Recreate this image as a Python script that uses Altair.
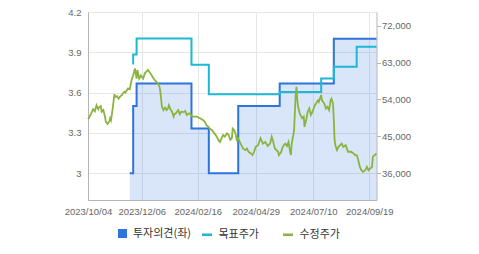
import altair as alt
import pandas as pd

# ---- data ----
price_dates = [
    "2023-10-04", "2023-10-05", "2023-10-08", "2023-10-10", "2023-10-12", "2023-10-14", "2023-10-16", "2023-10-17",
    "2023-10-19", "2023-10-20", "2023-10-22", "2023-10-24", "2023-10-25", "2023-10-27", "2023-10-29", "2023-10-30",
    "2023-10-31", "2023-11-02", "2023-11-04", "2023-11-05", "2023-11-07", "2023-11-09", "2023-11-11", "2023-11-13",
    "2023-11-14", "2023-11-16", "2023-11-17", "2023-11-18", "2023-11-20", "2023-11-22", "2023-11-24", "2023-11-26",
    "2023-11-27", "2023-11-28", "2023-11-30", "2023-12-01", "2023-12-03", "2023-12-05", "2023-12-06", "2023-12-08",
    "2023-12-10", "2023-12-12", "2023-12-14", "2023-12-17", "2023-12-19", "2023-12-20", "2023-12-23", "2023-12-25",
    "2023-12-27", "2023-12-29", "2023-12-30", "2024-01-01", "2024-01-03", "2024-01-05", "2024-01-07", "2024-01-09",
    "2024-01-10", "2024-01-12", "2024-01-14", "2024-01-16", "2024-01-17", "2024-01-19", "2024-01-22", "2024-01-24",
    "2024-01-26", "2024-01-29", "2024-01-31", "2024-02-02", "2024-02-04", "2024-02-06", "2024-02-08", "2024-02-10",
    "2024-02-15", "2024-02-19", "2024-02-23", "2024-02-25", "2024-02-27", "2024-02-29", "2024-03-02", "2024-03-05",
    "2024-03-08", "2024-03-11", "2024-03-13", "2024-03-15", "2024-03-17", "2024-03-19", "2024-03-21", "2024-03-24",
    "2024-03-26", "2024-03-28", "2024-03-30", "2024-03-31", "2024-04-02", "2024-04-04", "2024-04-05", "2024-04-07",
    "2024-04-10", "2024-04-13", "2024-04-16", "2024-04-18", "2024-04-20", "2024-04-23", "2024-04-25", "2024-04-27",
    "2024-04-29", "2024-05-02", "2024-05-05", "2024-05-08", "2024-05-11", "2024-05-14", "2024-05-17", "2024-05-19",
    "2024-05-21", "2024-05-23", "2024-05-27", "2024-05-28", "2024-05-31", "2024-06-01", "2024-06-03", "2024-06-05",
    "2024-06-07", "2024-06-09", "2024-06-11", "2024-06-12", "2024-06-13", "2024-06-15", "2024-06-16", "2024-06-18",
    "2024-06-19", "2024-06-20", "2024-06-21", "2024-06-23", "2024-06-26", "2024-06-28", "2024-06-29", "2024-07-01",
    "2024-07-03", "2024-07-05", "2024-07-07", "2024-07-09", "2024-07-12", "2024-07-16", "2024-07-17", "2024-07-20",
    "2024-07-21", "2024-07-24", "2024-07-26", "2024-07-28", "2024-07-30", "2024-08-01", "2024-08-02", "2024-08-04",
    "2024-08-05", "2024-08-06", "2024-08-07", "2024-08-09", "2024-08-11", "2024-08-13", "2024-08-15", "2024-08-17",
    "2024-08-20", "2024-08-23", "2024-08-27", "2024-08-30", "2024-09-01", "2024-09-03", "2024-09-05", "2024-09-07",
    "2024-09-09", "2024-09-11", "2024-09-14", "2024-09-16", "2024-09-18", "2024-09-20", "2024-09-22", "2024-09-23",
    "2024-09-25", "2024-09-27",
]
price_values = [
    49200, 49400, 50700, 51600, 51100, 52600, 51600, 52100,
    52400, 51000, 51400, 49700, 48500, 48000, 48700, 49400,
    48900, 51900, 55300, 54600, 54800, 54200, 54800, 55100,
    55500, 55900, 55700, 56100, 56700, 56500, 58700, 59900,
    60700, 61600, 59100, 61200, 59100, 59900, 59500, 59100,
    60400, 60800, 61200, 60400, 59900, 59500, 58700, 58300,
    57900, 57000, 55900, 52200, 51400, 52000, 51400, 51900,
    52600, 51600, 51000, 49800, 50400, 50600, 51400, 50400,
    51000, 50900, 51200, 50200, 50500, 50600, 50000, 49800,
    49800, 49400, 48900, 48500, 47700, 47400, 46900, 46500,
    45700, 44900, 44100, 43600, 44500, 45300, 44900, 45700,
    45300, 44100, 44500, 46900, 46500, 45300, 44100, 44500,
    43200, 42000, 41600, 42000, 41200, 40800, 40400, 41200,
    42400, 42800, 44500, 43200, 43600, 42600, 43200, 44900,
    43600, 42000, 41200, 40400, 41200, 42000, 42800, 43200,
    42600, 43600, 41200, 40400, 43200, 45300, 46500, 55500,
    57100, 53800, 52200, 50600, 49400, 49800, 47300, 48900,
    51000, 51800, 50200, 51000, 52600, 53800, 53400, 55100,
    53800, 53000, 51800, 52200, 51400, 53800, 54200, 53000,
    48900, 44100, 42800, 41600, 42400, 42800, 43200, 42400,
    42800, 41200, 41200, 40800, 40400, 40400, 39200, 37500,
    36700, 36300, 36700, 37500, 36700, 37100, 37500, 40000,
    40400, 40800,
]

opinion_dates = ["2023-11-22", "2023-11-26", "2023-11-30", "2024-02-08", "2024-03-01",
                 "2024-04-07", "2024-05-29", "2024-08-05", "2024-09-27"]
opinion_values = [3.0, 3.5, 3.667, 3.333, 3.0, 3.5, 3.667, 4.0, 4.0]

target_dates = ["2023-11-25", "2023-11-26", "2023-11-30", "2024-02-08", "2024-03-01",
                "2024-05-29", "2024-07-20", "2024-08-05", "2024-09-03", "2024-09-27"]
target_values = [62800, 65000, 68900, 62500, 55300, 55800, 59100, 62000, 66900, 66900]

x_tick_dates = ["2023-10-04", "2023-12-06", "2024-02-16", "2024-04-29", "2024-07-10", "2024-09-19"]
x_end_date = "2024-09-27"
left_ticks = [3.0, 3.3, 3.6, 3.9, 4.2]
right_ticks = [36000, 45000, 54000, 63000, 72000]

series_names = ["투자의견(좌)", "목표주가", "수정주가"]
series_colors = ["#2f74dc", "#1cb8d4", "#8ab43e"]


def ms(dates):
    """date strings -> epoch milliseconds (UTC)"""
    return [int(v) for v in (pd.to_datetime(dates).astype("int64") // 10**6)]


# ---- tables ----
price_df = pd.DataFrame({"t": ms(price_dates), "value": price_values, "series": series_names[2]})
opinion_df = pd.DataFrame({"t": ms(opinion_dates), "value": opinion_values, "series": series_names[0]})
target_df = pd.DataFrame({"t": ms(target_dates), "value": target_values, "series": series_names[1]})

W, H = 288.5, 188
# the source chart spaces its date ticks by trading sessions, so the time axis is piecewise
x_scale = alt.Scale(domain=ms(x_tick_dates + [x_end_date]),
                    range=[0, 53.7, 109.7, 167.7, 225.3, 281.3, W], zero=False, nice=False)
x_axis = alt.Axis(values=ms(x_tick_dates), labelExpr="utcFormat(datum.value, '%Y/%m/%d')", title=None,
                  grid=True, ticks=False, labelFlush=False, labelOverlap=False,
                  labelPadding=6, domainColor="#b5b5b5")
X = alt.X("t:Q", scale=x_scale, axis=x_axis)

left_scale = alt.Scale(domain=[2.8, 4.2], zero=False, nice=False)
left_axis = alt.Axis(values=left_ticks, title=None, grid=True, ticks=False, labelPadding=7,
                     labelExpr="toString(round(datum.value*10)/10)", domainColor="#b5b5b5")
right_scale = alt.Scale(domain=[29400, 75400], zero=False, nice=False)
right_axis = alt.Axis(values=right_ticks, format=",.0f", title=None, orient="right", grid=False,
                      ticks=True, tickSize=4, tickColor="#b5b5b5", labelPadding=1, domainColor="#b5b5b5")

legend_common = dict(orient="none", direction="horizontal", title=None, padding=0,
                     labelFont="Noto Sans CJK KR", labelFontSize=11, labelColor="#333", labelOffset=5)

area = alt.Chart(opinion_df).mark_area(interpolate="step-after", color=series_colors[0], opacity=0.18).encode(
    x=X, y=alt.Y("value:Q", scale=left_scale, axis=left_axis), y2=alt.Y2(datum=2.8))
op_line = alt.Chart(opinion_df).mark_line(interpolate="step-after", color=series_colors[0], strokeWidth=2).encode(
    x=X, y=alt.Y("value:Q", scale=left_scale, axis=left_axis))
# carries only the square legend entry for the opinion series (the mark itself has zero size)
op_key = alt.Chart(opinion_df).mark_square(size=0).encode(
    x=X, y=alt.Y("value:Q", scale=left_scale, axis=left_axis),
    fill=alt.Fill("series:N", scale=alt.Scale(domain=series_names[:1], range=series_colors[:1]),
                  legend=alt.Legend(legendX=29, legendY=216, symbolType="square", symbolSize=81,
                                    symbolStrokeWidth=0, symbolOpacity=1, **legend_common)))

tg_line = alt.Chart(target_df).mark_line(interpolate="step-after", color=series_colors[1], strokeWidth=2).encode(
    x=X, y=alt.Y("value:Q", scale=right_scale, axis=right_axis))
pr_line = alt.Chart(price_df).mark_line(strokeWidth=1.8).encode(
    x=X, y=alt.Y("value:Q", scale=right_scale, axis=right_axis),
    color=alt.Color("series:N", scale=alt.Scale(domain=series_names[1:], range=series_colors[1:]),
                    legend=alt.Legend(legendX=112.5, legendY=216, symbolType="stroke", symbolSize=100,
                                      symbolStrokeWidth=2.5, gridAlign="all", columnPadding=18,
                                      **legend_common)))

chart = alt.layer(alt.layer(area, op_line, op_key), alt.layer(tg_line, pr_line)).resolve_scale(
    y="independent"
).properties(
    width=W, height=H, autosize="none",
    padding={"left": 88, "top": 12, "right": 479 - 88 - W, "bottom": 254 - 12 - H},
).configure_view(stroke=None).configure_axis(
    labelFont="Liberation Sans", labelFontSize=9.5, labelColor="#666", gridColor="#e6e6e6"
)

chart.save("out.html", embed_options={"renderer": "svg", "actions": False})
